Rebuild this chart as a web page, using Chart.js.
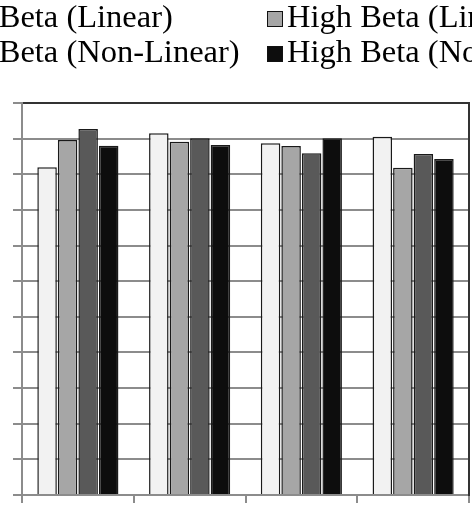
<!DOCTYPE html>
<html>
<head>
<meta charset="utf-8">
<script src="https://cdn.jsdelivr.net/npm/chart.js@4/dist/chart.umd.min.js"></script>
<style>
  html, body { margin: 0; padding: 0; background: #fff; overflow: hidden; }
  #wrap { position: relative; width: 472px; height: 516px; overflow: hidden; }
  #chart { position: absolute; left: 0; top: 0; }
  #legend {
    position: absolute; top: -1px; left: -89px;
    display: grid; grid-template-columns: 356px auto;
    font-family: "Liberation Serif", "Times New Roman", serif;
    font-size: 32.5px; line-height: 35px; color: #000; white-space: nowrap;
  }
  #legend .box {
    display: inline-block; width: 16px; height: 16px; margin-right: 4px;
    box-sizing: border-box; border: 1.5px solid #111; vertical-align: baseline;
  }
</style>
</head>
<body>
<div id="wrap">
  <canvas id="chart" width="472" height="516"></canvas>
  <div id="legend"></div>
</div>
<script>
  // categories are not labelled in the picture
  const categories = ["1", "2", "3", "4"];
  const seriesNames = ["Low Beta (Linear)", "High Beta (Linear)", "Low Beta (Non-Linear)", "High Beta (Non-Linear)"];
  const lowLinear = [0.92, 1.015, 0.987, 1.005];
  const highLinear = [0.996, 0.991, 0.979, 0.918];
  const lowNonLinear = [1.027, 1.001, 0.959, 0.957];
  const highNonLinear = [0.98, 0.982, 1.001, 0.943];
  const colors = ["#f2f2f2", "#a6a6a6", "#595959", "#0d0d0d"];

  const series = [lowLinear, highLinear, lowNonLinear, highNonLinear];
  const gridGray = "#8c8c8c";

  const chart = new Chart(document.getElementById("chart"), {
    type: "bar",
    data: {
      labels: categories,
      datasets: series.map((values, i) => ({
        label: seriesNames[i],
        data: values,
        backgroundColor: colors[i],
        borderColor: "#1a1a1a",
        borderWidth: 1.5,
        barPercentage: 0.95,
        categoryPercentage: 0.735,
      })),
    },
    options: {
      responsive: false,
      animation: false,
      layout: { padding: { top: 103, left: 13, right: 3, bottom: 13 } },
      plugins: { legend: { display: false }, tooltip: { enabled: false } },
      scales: {
        x: {
          ticks: { display: false },
          grid: { drawOnChartArea: false, tickLength: 8, color: gridGray, lineWidth: 2 },
          border: { color: gridGray, width: 2 },
        },
        y: {
          min: 0,
          max: 1.1,
          ticks: { display: false, stepSize: 0.1 },
          grid: {
            tickLength: 9,
            lineWidth: 2,
            color: (ctx) => (ctx.tick && ctx.tick.value > 1.09 ? "#333" : gridGray),
            tickColor: gridGray,
          },
          border: { color: gridGray, width: 2 },
        },
        y2: {
          position: "right",
          ticks: { display: false },
          grid: { drawOnChartArea: false, drawTicks: false },
          border: { color: "#333", width: 2 },
        },
      },
    },
  });

  // html legend in two aligned columns, as in the source
  const items = Chart.defaults.plugins.legend.labels.generateLabels(chart);
  const legend = document.getElementById("legend");
  items.forEach((item) => {
    const cell = document.createElement("div");
    const box = document.createElement("span");
    box.className = "box";
    box.style.background = item.fillStyle;
    cell.appendChild(box);
    cell.appendChild(document.createTextNode(item.text));
    legend.appendChild(cell);
  });
</script>
</body>
</html>
